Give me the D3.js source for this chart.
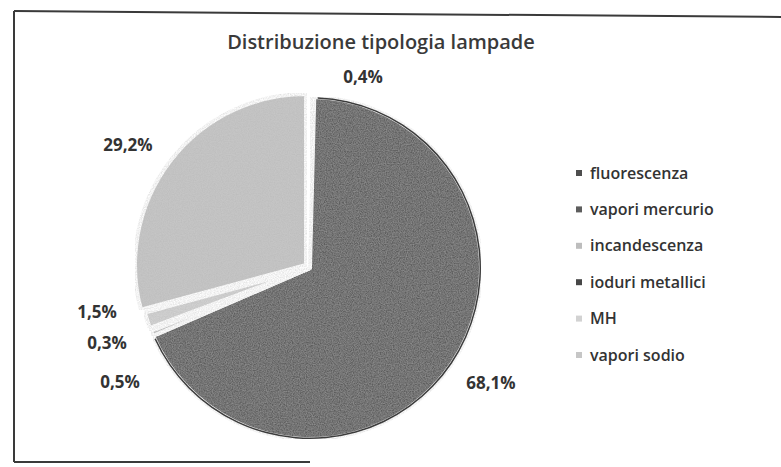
<!DOCTYPE html>
<html>
<head>
<meta charset="utf-8">
<script src="https://cdn.jsdelivr.net/npm/d3@7"></script>
<style>
  html, body { margin: 0; padding: 0; background: #fff; }
  svg { display: block; }
</style>
</head>
<body>
<svg id="chart" width="781" height="467"></svg>
<script>
// Lamp type distribution (percent of total)
const categories = ["fluorescenza", "vapori mercurio", "incandescenza", "ioduri metallici", "MH", "vapori sodio"];
const values = [0.4, 68.1, 0.5, 0.3, 1.5, 29.2];
const valueLabels = ["0,4%", "68,1%", "0,5%", "0,3%", "1,5%", "29,2%"];
const colors = ["#4e4e4e", "#5d5d5d", "#bdbdbd", "#474747", "#d2d2d2", "#c6c6c6"];
const title = "Distribuzione tipologia lampade";
// slice pulled out of the pie (vapori sodio)
const explodedIndex = 5;

const svg = d3.select("#chart");
const W = 781;

// grain for the slice fills
const defs = svg.append("defs");
const grain = defs.append("filter").attr("id", "grain")
  .attr("x", "0%").attr("y", "0%").attr("width", "100%").attr("height", "100%");
grain.append("feTurbulence").attr("type", "fractalNoise").attr("baseFrequency", 0.85)
  .attr("numOctaves", 2).attr("seed", 3).attr("result", "noise");
grain.append("feColorMatrix").attr("in", "noise").attr("type", "matrix")
  .attr("values", "0 0 0 0 0.45  0 0 0 0 0.45  0 0 0 0 0.45  0 0 0 0.7 -0.15").attr("result", "speck");
grain.append("feComposite").attr("in", "speck").attr("in2", "SourceGraphic").attr("operator", "in").attr("result", "speckIn");
grain.append("feMerge").selectAll("feMergeNode").data(["SourceGraphic", "speckIn"]).join("feMergeNode").attr("in", d => d);

// frame
const frame = svg.append("g").attr("stroke", "#3a3a3a").attr("stroke-width", 2).attr("fill", "none");
frame.append("line").attr("x1", 14).attr("y1", 11).attr("x2", W).attr("y2", 17);
frame.append("line").attr("x1", 14).attr("y1", 11).attr("x2", 14).attr("y2", 462);
frame.append("line").attr("x1", 14).attr("y1", 462).attr("x2", 310).attr("y2", 462);

// title
svg.append("text")
  .attr("x", 381).attr("y", 49)
  .attr("text-anchor", "middle")
  .attr("font-family", "'Open Sans', sans-serif")
  .attr("font-size", 20).attr("font-weight", 600)
  .attr("fill", "#3a3a3a")
  .text(title);

// pie
const cx = 310, cy = 268, r = 171;
const pie = d3.pie().sort(null).value(d => d)(values);
const arc = d3.arc().innerRadius(0).outerRadius(r);

const g = svg.append("g").attr("transform", `translate(${cx},${cy})`);
g.selectAll("path.slice")
  .data(pie)
  .join("path")
  .attr("class", "slice")
  .attr("d", arc)
  .attr("transform", (d, i) => {
    if (i !== explodedIndex) return null;
    const a = (d.startAngle + d.endAngle) / 2, off = 5;
    return `translate(${off * Math.sin(a)},${-off * Math.cos(a)})`;
  })
  .attr("fill", (d, i) => colors[i])
  .attr("stroke", "#fff")
  .attr("stroke-width", 4)
  .attr("stroke-linejoin", "miter")
  .attr("filter", "url(#grain)");

// darker rim along the large slice
const rim = d3.arc().innerRadius(r - 1.5).outerRadius(r);
g.append("path")
  .attr("d", rim({ startAngle: pie[1].startAngle + 0.02, endAngle: pie[1].endAngle - 0.02 }))
  .attr("fill", "#3c3c3c");

// percentage labels, placed outside each slice
const labelPos = [
  [363, 77],   // fluorescenza
  [491, 383],  // vapori mercurio
  [120, 382],  // incandescenza
  [107, 343],  // ioduri metallici
  [97, 312],   // MH
  [128, 145]   // vapori sodio
];
svg.append("g")
  .selectAll("text")
  .data(valueLabels)
  .join("text")
  .attr("x", (d, i) => labelPos[i][0])
  .attr("y", (d, i) => labelPos[i][1])
  .attr("dy", "0.35em")
  .attr("text-anchor", "middle")
  .attr("font-family", "'Open Sans', sans-serif")
  .attr("font-size", 17).attr("font-weight", 700)
  .attr("fill", "#333")
  .text(d => d);

// legend
const legendY = d3.scalePoint().domain(categories).range([173, 355]);
const legend = svg.append("g");
const item = legend.selectAll("g")
  .data(categories)
  .join("g")
  .attr("transform", d => `translate(579,${legendY(d)})`);
item.append("rect")
  .attr("x", -3).attr("y", -3).attr("width", 6).attr("height", 6)
  .attr("fill", (d, i) => colors[i]);
item.append("text")
  .attr("x", 11).attr("dy", "0.35em")
  .attr("font-family", "'Open Sans', sans-serif")
  .attr("font-size", 16).attr("font-weight", 600)
  .attr("fill", "#333")
  .text(d => d);
</script>
</body>
</html>
